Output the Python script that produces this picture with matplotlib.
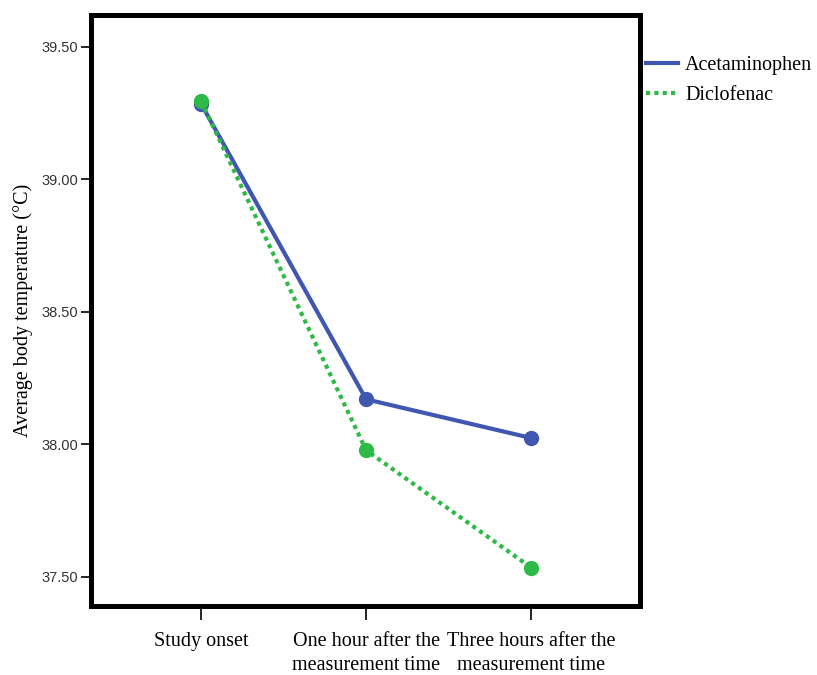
import matplotlib.pyplot as plt

times = ['Study onset', 'One hour after the\nmeasurement time', 'Three hours after the\nmeasurement time']
acetaminophen = [39.285, 38.17, 38.024]
diclofenac = [39.295, 37.978, 37.535]
yticks = [37.50, 38.00, 38.50, 39.00, 39.50]

serif = ['Liberation Serif', 'DejaVu Serif']
sans = ['Liberation Sans', 'DejaVu Sans']

fig = plt.figure(figsize=(8.17, 6.75), dpi=100)
ax = fig.add_axes([91/817, 1 - 606/675, 549/817, 591/675])

x = range(len(times))
l1, = ax.plot(x, acetaminophen, color='#3f57b0', lw=3, marker='o', ms=10)
l2, = ax.plot(x, diclofenac, color='#2dba46', lw=3, ls=(0, (1, 1)), marker='o', ms=10)

ax.set_xlim(-0.667, 2.66)
ax.set_ylim(37.39, 39.62)
ax.set_xticks(list(x))
ax.set_xticklabels(times, family=serif, fontsize=14.5, linespacing=1.35)
ax.set_yticks(yticks)
ax.set_yticklabels([f'{v:.2f}' for v in yticks], family=sans, fontsize=10.5, color='#333333')
ax.tick_params(axis='y', direction='out', length=7, width=1.2, pad=2)
ax.tick_params(axis='x', direction='out', length=10, width=1.2, pad=9)
ax.set_ylabel('Average body temperature (°C)', family=serif, fontsize=14.5, labelpad=6)

for s in ax.spines.values():
    s.set_linewidth(3.6)

# legend handles without markers, placed right of the frame
h1 = plt.Line2D([], [], color='#3f57b0', lw=3)
h2 = plt.Line2D([], [], color='#2dba46', lw=3, ls=(0, (1, 1)))
fig.legend([h1, h2], ['Acetaminophen', 'Diclofenac'], loc='upper left',
           bbox_to_anchor=(646/817, 1 - 56/675), frameon=False,
           prop={'family': serif, 'size': 14.5}, handlelength=1.6,
           handletextpad=0.35, borderaxespad=0, borderpad=0, labelspacing=0.55)

fig.savefig('out.png', dpi=100)
